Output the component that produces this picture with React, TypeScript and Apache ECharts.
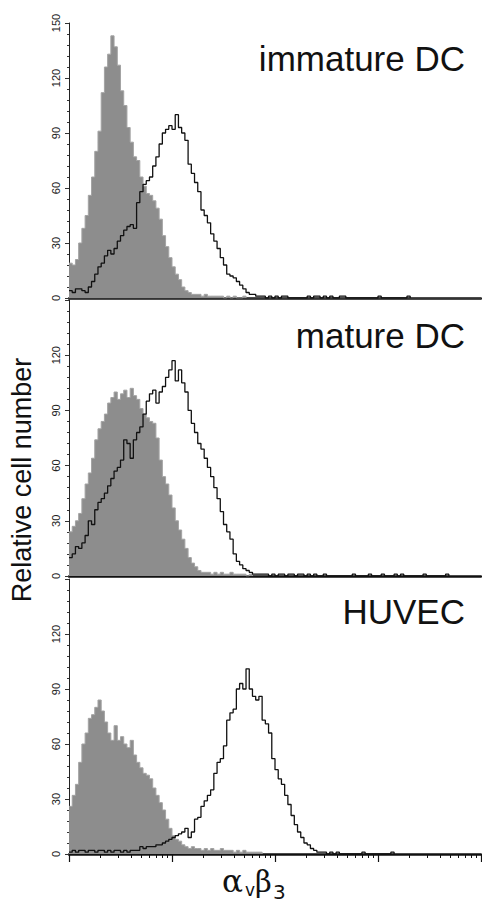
import React, { useEffect, useRef } from 'react';
import * as echarts from 'echarts';

// ---- Data (histogram counts per channel bin, 32 bins per decade, 4 decades) ----
const panelNames = ['immature DC', 'mature DC', 'HUVEC'];
const yTickValues = [0, 30, 60, 90, 120, 150];
const decadeBins = [0, 32, 64, 96, 128];
const minorMultipliers = [2, 3, 4, 5, 6, 7, 8, 9];
const binsPerDecade = 32;

const controlImmature = [
  19, 18, 21, 30, 38, 45, 56, 66, 80, 91,
  112, 126, 133, 143, 137, 127, 113, 105, 93, 85,
  77, 75, 66, 61, 57, 56, 53, 49, 43, 34,
  28, 22, 17, 13, 10, 6, 4, 3, 2, 2,
  2, 1, 2, 1, 1, 1, 1, 1, 0, 1,
  0, 1, 0, 0, 1,
];
const stainImmature = [
  4, 3, 5, 5, 4, 3, 6, 9, 13, 17,
  19, 23, 26, 24, 27, 31, 34, 37, 39, 40,
  38, 52, 58, 62, 64, 66, 72, 77, 84, 90,
  92, 94, 92, 100, 93, 90, 86, 73, 68, 63,
  58, 48, 45, 41, 35, 31, 27, 22, 18, 13,
  12, 11, 9, 7, 5, 3, 2, 2, 1, 1,
  1, 0, 1, 0, 1, 0, 1, 1, 0, 0,
  0, 0, 0, 0, 1, 0, 1, 1, 0, 1,
  0, 1, 0, 0, 1, 1, 0, 0, 0, 0,
  0, 0, 0, 0, 0, 0, 1, 0, 0, 0,
  0, 0, 0, 0, 0, 1,
];
const controlMature = [
  24, 27, 30, 34, 42, 50, 56, 64, 74, 80,
  84, 88, 94, 97, 100, 96, 99, 101, 97, 102,
  98, 96, 91, 88, 86, 84, 83, 75, 63, 54,
  50, 44, 37, 30, 25, 20, 15, 10, 7, 5,
  3, 2, 2, 2, 1, 2, 1, 2, 1, 1,
  2, 1, 1, 1, 1, 0, 1,
];
const stainMature = [
  10, 12, 16, 15, 18, 22, 30, 28, 36, 40,
  42, 45, 49, 53, 57, 59, 63, 74, 72, 64,
  74, 78, 81, 88, 95, 99, 101, 94, 100, 103,
  108, 112, 117, 106, 112, 105, 100, 90, 83, 78,
  72, 69, 64, 59, 54, 48, 42, 35, 28, 24,
  20, 12, 8, 6, 4, 3, 2, 1, 1, 1,
  1, 1, 0, 1, 0, 1, 1, 0, 1, 1,
  0, 1, 1, 0, 1, 0, 1, 0, 0, 1,
  0, 0, 0, 0, 0, 0, 0, 0, 1, 0,
  0, 0, 0, 1, 0, 0, 0, 1, 0, 0,
  0, 1, 0, 1, 0, 0, 0, 0, 0, 0,
  1, 0, 0, 0, 0, 0, 0, 1,
];
const controlHuvec = [
  26, 32, 38, 50, 60, 66, 74, 76, 80, 84,
  78, 72, 66, 62, 70, 62, 64, 60, 58, 62,
  54, 50, 47, 44, 43, 41, 36, 32, 28, 24,
  19, 14, 10, 8, 7, 5, 4, 3, 4, 3,
  3, 2, 3, 2, 3, 2, 2, 3, 2, 2,
  2, 1, 2, 1, 2, 1, 1, 1, 1, 1,
];
const stainHuvec = [
  1, 2, 1, 2, 2, 1, 2, 2, 1, 2,
  2, 1, 2, 1, 2, 2, 1, 2, 1, 2,
  2, 2, 4, 3, 4, 4, 4, 5, 5, 6,
  7, 8, 9, 10, 11, 12, 14, 9, 12, 19,
  20, 26, 29, 32, 35, 44, 50, 52, 59, 73,
  77, 79, 90, 93, 90, 101, 90, 86, 84, 86,
  73, 71, 66, 52, 46, 41, 38, 32, 27, 21,
  16, 12, 9, 6, 5, 3, 2, 1, 1, 1,
  0, 1, 0, 1, 0, 0, 0, 0, 0, 0,
  0, 1, 0, 0, 0, 0, 0, 0, 0, 0,
  1,
];

const controls = [controlImmature, controlMature, controlHuvec];
const stains = [stainImmature, stainMature, stainHuvec];

function toSteps(arr: number[]) {
  const pts: number[][] = arr.map((v, i) => [i, v]);
  pts.push([arr.length, 0]);
  return pts;
}

export default function App() {
  const ref = useRef<HTMLDivElement>(null);
  useEffect(() => {
    const chart = echarts.init(ref.current!, null, { renderer: 'svg' });
    const gridTops = [23, 300, 579];
    const gridHeights = [275, 276, 275];
    const FONT = '"Liberation Sans", Arial, sans-serif';

    const minorBins: number[] = [];
    decadeBins.slice(0, -1).forEach((d) => {
      minorMultipliers.forEach((m) => minorBins.push(d + binsPerDecade * Math.log10(m)));
    });

    const grid = gridTops.map((t, i) => ({ left: 69, right: 1, top: t, height: gridHeights[i] }));

    const baseX = (gi: number) => ({
      gridIndex: gi,
      type: 'value',
      min: 0,
      max: 128,
      position: 'bottom',
      axisLine: { show: true, onZero: false, lineStyle: { color: '#111', width: 2.5 } },
      axisTick: { show: false },
      axisLabel: { show: false },
      splitLine: { show: false },
    });

    const xAxis: any[] = [
      baseX(0),
      {
        gridIndex: 0, type: 'value', min: 0, max: 128, position: 'top',
        axisLine: { show: true, lineStyle: { color: '#333', width: 1.2 } },
        axisTick: { show: false }, axisLabel: { show: false }, splitLine: { show: false },
      },
      baseX(1),
      {
        ...baseX(2),
        axisTick: { show: true, customValues: decadeBins, length: 8, lineStyle: { color: '#111', width: 1.2 } },
      },
      {
        gridIndex: 2, type: 'value', min: 0, max: 128, position: 'bottom',
        axisLine: { show: false },
        axisTick: { show: true, customValues: minorBins, length: 4, lineStyle: { color: '#111', width: 1 } },
        axisLabel: { show: false }, splitLine: { show: false },
      },
    ];

    const yAxis = [0, 1, 2].map((gi) => ({
      gridIndex: gi,
      type: 'value',
      min: yTickValues[0],
      max: yTickValues[yTickValues.length - 1],
      interval: yTickValues[1] - yTickValues[0],
      axisLine: { show: true, lineStyle: { color: '#222', width: 1 } },
      axisTick: { show: true, length: 4, lineStyle: { color: '#333' } },
      minorTick: { show: true, splitNumber: 5, length: 2, lineStyle: { color: '#333' } },
      axisLabel: {
        rotate: 90,
        fontSize: 11,
        fontFamily: FONT,
        color: '#222',
        margin: 8,
        formatter: (v: number) => (gi > 0 && v === 150 ? '' : String(v)),
      },
      splitLine: { show: false },
      minorSplitLine: { show: false },
    }));

    const xIdx = [0, 2, 3];
    const series: any[] = [];
    [0, 1, 2].forEach((p) => {
      series.push({
        type: 'line',
        xAxisIndex: xIdx[p],
        yAxisIndex: p,
        data: toSteps(controls[p]),
        step: 'end',
        symbol: 'none',
        lineStyle: { color: '#a3a3a3', width: 1 },
        areaStyle: { color: '#8d8d8d', opacity: 1 },
        z: 2,
      });
      series.push({
        type: 'line',
        xAxisIndex: xIdx[p],
        yAxisIndex: p,
        data: toSteps(stains[p]),
        step: 'end',
        symbol: 'none',
        lineStyle: { color: '#111', width: 1.3 },
        z: 3,
      });
    });

    const titleY = [58.5, 335.5, 611.5];
    const graphic: any[] = panelNames.map((name, i) => ({
      type: 'text',
      x: 465,
      y: titleY[i],
      style: { text: name, font: `35px ${FONT}`, fill: '#111', align: 'right', verticalAlign: 'middle' },
    }));
    graphic.push({
      type: 'text',
      x: 22,
      y: 480,
      rotation: Math.PI / 2,
      style: { text: 'Relative cell number', font: `27px ${FONT}`, fill: '#111', align: 'center', verticalAlign: 'middle' },
    });
    const SERIF = '"DejaVu Serif", "Liberation Serif", serif';
    const SANS = '"DejaVu Sans", "Liberation Sans", sans-serif';
    graphic.push(
      { type: 'text', x: 222, y: 881, style: { text: 'α', font: `31px ${SERIF}`, fill: '#111', align: 'left', verticalAlign: 'middle' } },
      { type: 'text', x: 245, y: 890, style: { text: 'v', font: `17px ${SANS}`, fill: '#111', align: 'left', verticalAlign: 'middle' } },
      { type: 'text', x: 255, y: 882, style: { text: 'β', font: `29px ${SERIF}`, fill: '#111', align: 'left', verticalAlign: 'middle' } },
      { type: 'text', x: 273, y: 892, style: { text: '3', font: `20px ${SANS}`, fill: '#111', align: 'left', verticalAlign: 'middle' } },
    );

    chart.setOption({
      animation: false,
      backgroundColor: '#fff',
      grid,
      xAxis,
      yAxis,
      series,
      graphic,
    });
    return () => chart.dispose();
  }, []);
  return (
    <div
      ref={ref}
      style={{ position: 'absolute', left: 0, top: 0, width: 482, height: 904, background: '#fff' }}
    />
  );
}
